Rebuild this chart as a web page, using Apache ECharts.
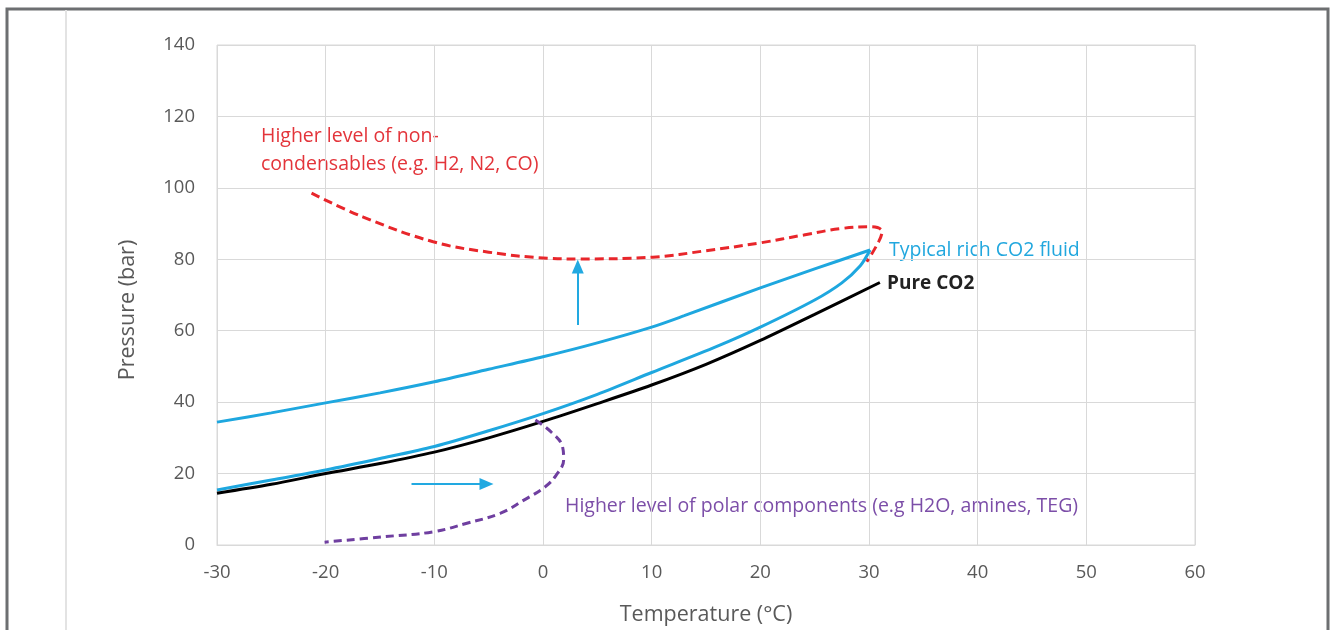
<!DOCTYPE html>
<html>
<head>
    <meta charset="utf-8">
    <title>CO2 phase envelope</title>
    <script src="https://cdn.jsdelivr.net/npm/echarts@6/dist/echarts.min.js"></script>
</head>
<body>
<div id="main"></div>
<style type="text/css">
    html, body {
        height: 100%;
        margin: 0px;
        padding: 0px;
        background: #fff;
    }

    #main {
        width: 1335px;
        height: 630px;
    }
</style>

<script type="text/javascript">
    // axis ticks
    var xTicks = [-30, -20, -10, 0, 10, 20, 30, 40, 50, 60];
    var yTicks = [0, 20, 40, 60, 80, 100, 120, 140];

    // [temperature, pressure]
    var pureCO2 = [[-30, 14.5], [-25, 17], [-20, 20], [-15, 22.8], [-10, 26], [-5, 30], [0, 34.6],
        [5, 39.6], [10, 44.8], [15, 50.6], [20, 57.3], [25, 64.6], [31, 73.5]];
    var richUpper = [[-30, 34.4], [-25, 37], [-20, 39.8], [-15, 42.6], [-10, 45.7], [-5, 49.2], [0, 52.7],
        [5, 56.6], [10, 61], [13, 64.2], [20, 72], [25, 77.3], [30.1, 82.6]];
    var richLower = [[-30, 15.4], [-25, 18.2], [-20, 21], [-15, 24.2], [-10, 27.6], [-5, 32], [0, 36.8],
        [5, 42.2], [10, 48.3], [16, 55.6], [20, 61], [25, 68.6], [27.5, 73.4], [29.2, 78.2], [30.1, 82.6]];
    var nonCondensables = [[-21.3, 98.5], [-16.6, 91.9], [-10.1, 84.9], [-5, 82], [0.4, 80.3], [3.4, 80.1],
        [10.1, 80.6], [15, 82.4], [20, 84.6], [24, 86.8], [27.4, 88.6], [30.2, 89.1], [31.2, 87.8],
        [30.9, 85], [29.8, 79.3]];
    var polar = [[-0.7, 35], [0.8, 31.5], [1.8, 27.5], [1.9, 23.8], [1.2, 19.5], [0.2, 16.3], [-1.8, 12.5],
        [-3.9, 8.9], [-7, 6.1], [-10.1, 3.7], [-14.7, 2.3], [-20.1, 0.8]];

    // arrows: [from, to]
    var arrowUp = [[3.2, 61.6], [3.2, 78]];
    var arrowRight = [[-12.1, 17.1], [-5.2, 17.1]];

    var font = 'Open Sans';
    var myChart = echarts.init(document.getElementById('main'));

    function arrow(pts) {
        return {
            silent: true,
            symbol: ['none', 'triangle'],
            symbolSize: [12, 14],
            lineStyle: {color: '#22a9e1', width: 2, type: 'solid'},
            label: {show: false},
            data: [[{coord: pts[0]}, {coord: pts[1]}]]
        };
    }

    var option = {
        backgroundColor: '#fff',
        animation: false,
        grid: {left: 217, right: 140, top: 45, bottom: 85, show: true, borderColor: '#d9d9d9', borderWidth: 1},
        xAxis: {
            type: 'value',
            min: -30, max: 60, interval: 10,
            axisLine: {show: true, lineStyle: {color: '#d9d9d9'}},
            axisTick: {show: false},
            axisLabel: {fontFamily: font, fontSize: 18.5, color: '#595959', margin: 18},
            splitLine: {lineStyle: {color: '#d9d9d9'}}
        },
        yAxis: {
            type: 'value',
            min: 0, max: 140, interval: 20,
            axisLine: {show: true, lineStyle: {color: '#d9d9d9'}},
            axisTick: {show: false},
            axisLabel: {fontFamily: font, fontSize: 18.5, color: '#595959', margin: 22},
            splitLine: {lineStyle: {color: '#d9d9d9'}}
        },
        series: [
            {
                name: 'Non-condensables', type: 'line', data: nonCondensables, smooth: 0.4,
                showSymbol: false, lineStyle: {color: '#e8262b', width: 3, type: [9, 5]}
            },
            {
                name: 'Rich CO2 upper', type: 'line', data: richUpper, smooth: 0.3,
                showSymbol: false, lineStyle: {color: '#1ea7df', width: 3},
                markLine: arrow(arrowUp)
            },
            {
                name: 'Rich CO2 lower', type: 'line', data: richLower, smooth: 0.3,
                showSymbol: false, lineStyle: {color: '#1ea7df', width: 3},
                markLine: arrow(arrowRight)
            },
            {
                name: 'Pure CO2', type: 'line', data: pureCO2, smooth: 0.3,
                showSymbol: false, lineStyle: {color: '#000', width: 3}
            },
            {
                name: 'Polar', type: 'line', data: polar, smooth: 0.4,
                showSymbol: false, lineStyle: {color: '#6f3fa0', width: 3, type: [8, 5]}
            }
        ],
        graphic: [
            // outer frame
            {type: 'rect', shape: {x: 7, y: 9, width: 1321, height: 640}, style: {fill: null, stroke: '#6d6f71', lineWidth: 3}, silent: true},
            {type: 'line', shape: {x1: 66, y1: 10, x2: 66, y2: 630}, style: {stroke: '#e3e3e3', lineWidth: 2}, silent: true},
            // axis titles
            {
                type: 'text', x: 128, y: 310, rotation: Math.PI / 2,
                style: {text: 'Pressure (bar)', font: '21.5px "Open Sans"', fill: '#595959', align: 'center', verticalAlign: 'middle'}
            },
            {
                type: 'text', x: 706, y: 615,
                style: {text: 'Temperature (°C)', font: '21.5px "Open Sans"', fill: '#595959', align: 'center', verticalAlign: 'middle'}
            },
            // annotations
            {
                type: 'text', x: 261, y: 122,
                style: {text: 'Higher level of non-\ncondensables (e.g. H2, N2, CO)', font: '19.5px "Open Sans"', lineHeight: 28, fill: '#e3343a'}
            },
            {
                type: 'text', x: 889, y: 250,
                style: {text: 'Typical rich CO2 fluid', font: '19.5px "Open Sans"', fill: '#21a7de', verticalAlign: 'middle'}
            },
            {
                type: 'text', x: 887, y: 284,
                style: {text: 'Pure CO2', font: 'bold 19px "Open Sans"', fill: '#222', verticalAlign: 'middle'}
            },
            {
                type: 'text', x: 565, y: 506,
                style: {text: 'Higher level of polar components (e.g H2O, amines, TEG)', font: '19.5px "Open Sans"', fill: '#7c4ea8', verticalAlign: 'middle'}
            }
        ]
    };

    myChart.setOption(option);
</script>
</body>
</html>
